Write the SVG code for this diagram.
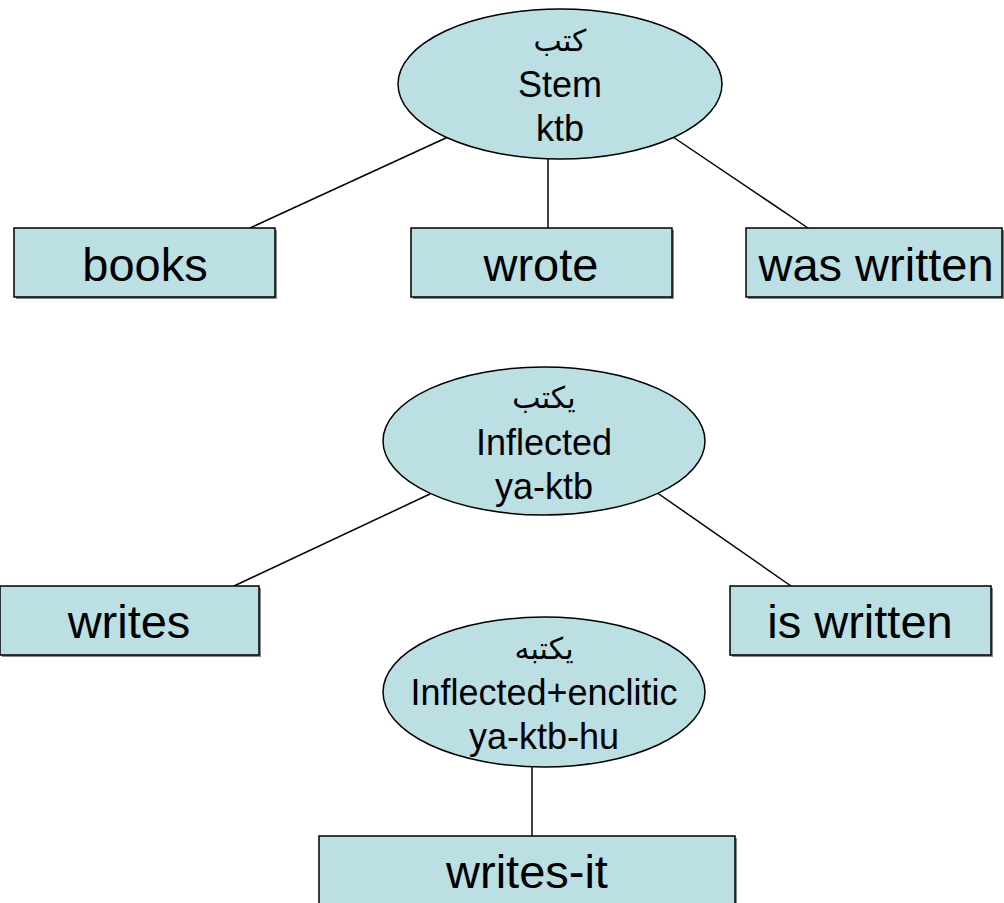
<svg xmlns="http://www.w3.org/2000/svg" width="1004" height="903" viewBox="0 0 1004 903">
<style>
.n{fill:#BBDFE3;stroke:#000;stroke-width:1.5}
.sh{fill:#888}
.e{fill:#BBDFE3;stroke:#000;stroke-width:1.5}
.t{font-family:"Liberation Sans",Arial,sans-serif;fill:#000;text-anchor:middle}
.b{font-size:47px}
.s{font-size:36px}
.a{font-family:"DejaVu Sans","Noto Sans",sans-serif;font-size:30px;fill:#000;text-anchor:middle}
.c{stroke:#000;stroke-width:1.5;fill:none}
</style>
<rect width="1004" height="903" fill="#fff"/>
<g id="connectors">
<line class="c" x1="448" y1="137" x2="250" y2="228"/>
<line class="c" x1="548" y1="159" x2="548" y2="228"/>
<line class="c" x1="673" y1="137" x2="808" y2="228"/>
<line class="c" x1="430" y1="494" x2="234" y2="586"/>
<line class="c" x1="656" y1="492" x2="791" y2="586"/>
<line class="c" x1="532" y1="767" x2="532" y2="836"/>
</g>
<g id="stem">
<ellipse class="e" cx="560" cy="84" rx="162" ry="75"/>
<text class="a" x="560" y="51">كتب</text>
<text class="t s" x="560" y="97">Stem</text>
<text class="t s" x="560" y="141">ktb</text>
</g>
<g id="books">
<rect class="sh" x="16" y="230" width="261" height="69"/>
<rect class="n" x="14" y="228" width="261" height="69"/>
<text class="t b" x="145" y="281">books</text>
</g>
<g id="wrote">
<rect class="sh" x="413" y="230" width="261" height="69"/>
<rect class="n" x="411" y="228" width="261" height="69"/>
<text class="t b" x="541" y="281">wrote</text>
</g>
<g id="was-written">
<rect class="sh" x="748" y="230" width="256" height="69"/>
<rect class="n" x="746" y="228" width="256" height="69"/>
<text class="t b" x="876" y="281">was written</text>
</g>
<g id="inflected">
<ellipse class="e" cx="544" cy="441" rx="161" ry="74"/>
<text class="a" x="544" y="408">يكتب</text>
<text class="t s" x="544" y="455">Inflected</text>
<text class="t s" x="544" y="499">ya-ktb</text>
</g>
<g id="writes">
<rect class="sh" x="2" y="588" width="259" height="69"/>
<rect class="n" x="0" y="586" width="259" height="69"/>
<text class="t b" x="129" y="638">writes</text>
</g>
<g id="is-written">
<rect class="sh" x="732" y="588" width="261" height="69"/>
<rect class="n" x="730" y="586" width="261" height="69"/>
<text class="t b" x="860" y="638">is written</text>
</g>
<g id="enclitic">
<ellipse class="e" cx="544" cy="692" rx="161" ry="75"/>
<text class="a" x="544" y="659">يكتبه</text>
<text class="t s" x="544" y="705">Inflected+enclitic</text>
<text class="t s" x="544" y="749">ya-ktb-hu</text>
</g>
<g id="writes-it">
<rect class="sh" x="321" y="838" width="416" height="70"/>
<rect class="n" x="319" y="836" width="416" height="70"/>
<text class="t b" x="527" y="888">writes-it</text>
</g>
</svg>
